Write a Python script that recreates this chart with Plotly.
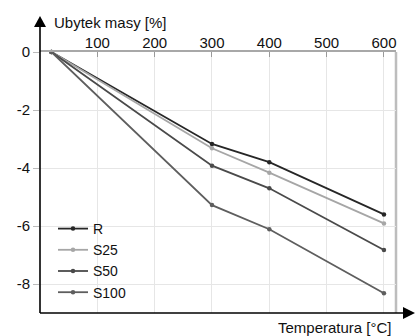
import plotly.graph_objects as go

temps = [20, 300, 400, 600]
series_names = ["R", "S25", "S50", "S100"]
R = [0, -3.17, -3.80, -5.60]
S25 = [0, -3.32, -4.16, -5.91]
S50 = [0, -3.92, -4.70, -6.83]
S100 = [0, -5.28, -6.11, -8.32]
x_ticks = [100, 200, 300, 400, 500, 600]
y_ticks = [0, -2, -4, -6, -8]
y_ticktext = ["0", "-2", "-4", "-6", "-8"]

colors = ["#262626", "#a6a6a6", "#4a4a4a", "#5e5e5e"]
FONT = "Liberation Sans, Arial, sans-serif"

fig = go.Figure()
for name, vals, c in zip(series_names, [R, S25, S50, S100], colors):
    fig.add_trace(go.Scatter(
        x=temps, y=vals, name=name, mode="lines+markers",
        line=dict(color=c, width=1.8),
        marker=dict(color=c, size=4.5),
        cliponaxis=False,
    ))

L, R_, T, B = 40, 21, 52, 23
W, H = 417, 336
pw, ph = W - L - R_, H - T - B

def px(x):
    return (x - L) / pw

def py(y):
    return (H - B - y) / ph

shapes = []
shapes.append(dict(type="line", xref="paper", yref="paper", x0=0, x1=0, y0=0, y1=py(24),
                   line=dict(color="black", width=1.6)))
shapes.append(dict(type="path", xref="paper", yref="paper",
                   path=f"M {px(40)} {py(16)} L {px(34)} {py(27)} L {px(46)} {py(27)} Z",
                   fillcolor="black", line=dict(color="black", width=0)))
shapes.append(dict(type="line", xref="paper", yref="paper", x0=0, x1=px(406), y0=0, y1=0,
                   line=dict(color="black", width=1.6)))
shapes.append(dict(type="path", xref="paper", yref="paper",
                   path=f"M {px(415)} {py(313)} L {px(403)} {py(307)} L {px(403)} {py(319)} Z",
                   fillcolor="black", line=dict(color="black", width=0)))
shapes.append(dict(type="line", xref="paper", yref="paper", x0=1, x1=1, y0=0, y1=1,
                   line=dict(color="#bdbdbd", width=2.5), layer="below"))

fig.update_layout(
    width=W, height=H,
    margin=dict(l=L, r=R_, t=T, b=B),
    paper_bgcolor="white", plot_bgcolor="white",
    font=dict(family=FONT, size=15, color="#111"),
    showlegend=True,
    legend=dict(x=px(53), y=py(213), xanchor="left", yanchor="top",
                bgcolor="rgba(0,0,0,0)", font=dict(size=14), tracegroupgap=0,
                itemwidth=30),
    shapes=shapes,
    annotations=[
        dict(text="Ubytek masy [%]", xref="paper", yref="paper", x=px(52), y=py(23),
             xanchor="left", yanchor="middle", showarrow=False, font=dict(size=15)),
        dict(text="Temperatura [°C]", xref="paper", yref="paper", x=px(394), y=py(327),
             xanchor="right", yanchor="middle", showarrow=False, font=dict(size=15)),
    ],
)
fig.update_xaxes(range=[0, 621], side="top", tickvals=x_ticks,
                 showgrid=True, gridcolor="#e6e6e6", gridwidth=1,
                 showline=True, linecolor="#a8a8a8", linewidth=2,
                 ticks="inside", ticklen=5, tickcolor="#999", tickwidth=1,
                 zeroline=False, ticklabelstandoff=-4)
fig.update_yaxes(range=[-9, 0], tickvals=y_ticks, ticktext=y_ticktext,
                 showgrid=True, gridcolor="#e6e6e6", gridwidth=1,
                 showline=False, ticks="outside", ticklen=6, tickcolor="#bbb",
                 zeroline=False)

fig.write_html("out.html")
